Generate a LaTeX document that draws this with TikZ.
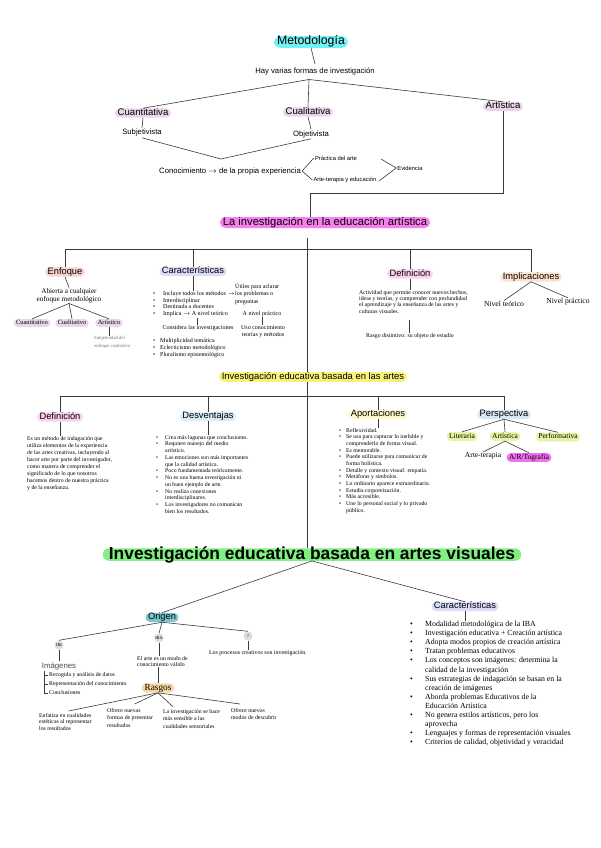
\documentclass[tikz,border=0pt]{standalone}
\usepackage{fontspec}
\setmainfont{Liberation Serif}
\setsansfont{Liberation Sans}
\usetikzlibrary{calc}
\newcommand\myfs[2]{\fontsize{#1}{#2}\selectfont}
\newcommand\myb[1][9pt]{\makebox[#1][l]{\textbullet}}
\newcommand\myc[1][9pt]{\hspace*{#1}}
\definecolor{cMeto}{HTML}{72F2F2}
\definecolor{cPurp}{HTML}{E9D6E9}
\definecolor{cInv}{HTML}{F77FF0}
\definecolor{cEnf}{HTML}{FBD3CD}
\definecolor{cCar}{HTML}{D9DDF7}
\definecolor{cDef}{HTML}{FBD1F1}
\definecolor{cImp}{HTML}{FDE1D3}
\definecolor{cYel}{HTML}{FBF27A}
\definecolor{cDes}{HTML}{D8ECFA}
\definecolor{cApo}{HTML}{FDF8CC}
\definecolor{cPer}{HTML}{D5E8F9}
\definecolor{cLit}{HTML}{E5F5A1}
\definecolor{cArt}{HTML}{F26FF0}
\definecolor{cGre}{HTML}{80F080}
\definecolor{cOri}{HTML}{7CC5D3}
\definecolor{cGry}{HTML}{DCDCDC}
\definecolor{cRas}{HTML}{FAD8A4}
\definecolor{cLine}{HTML}{3A3A3A}
\begin{document}
\begin{tikzpicture}[x=1pt,y=-1pt,
 ln/.style={draw=cLine, line width=0.6pt},
 pill/.style={fill=#1, rounded corners=4.5pt, inner xsep=2.5pt, inner ysep=0.5pt},
 hd/.style={font=\sffamily\myfs{9.3}{11}, text height=6.3pt, text depth=1.8pt},
 sf/.style={font=\sffamily\myfs{7.7}{9}, inner sep=1pt, text height=5.6pt, text depth=1.6pt},
 sfs/.style={font=\sffamily\myfs{5.8}{7}, inner sep=1pt},
 tx/.style={inner sep=0pt, align=left, font=\myfs{5.8}{6.7}},
 sp/.style={font=\myfs{6.4}{7.5}, text height=4.4pt, text depth=1.3pt, inner ysep=1.1pt, rounded corners=4pt},
 pp/.style={font=\myfs{7.5}{8.5}, text height=5.1pt, text depth=1.6pt, inner ysep=1.1pt, rounded corners=4.5pt},
 gc/.style={fill=cGry, rounded corners=4.5pt, minimum height=9pt, minimum width=9pt, inner sep=0.8pt, font=\myfs{4.3}{5}}
]
\fill[white] (0,0) rectangle (600,848);
\useasboundingbox (0,0) rectangle (600,848);

% ---------- top ----------
\node[pill=cMeto, font=\sffamily\myfs{12.3}{14}, text height=8.2pt, text depth=2.4pt, rounded corners=5.5pt, inner xsep=3pt] (meto) at (311,42) {Metodología};
\node[sf, inner ysep=4.3pt] (hay) at (315,72) {Hay varias formas de investigación};
\node[pill=cPurp, hd, font=\sffamily\myfs{9.6}{11}] (cuant) at (143,113) {Cuantitativa};
\node[pill=cPurp, hd, font=\sffamily\myfs{9.6}{11}] (cual) at (308,112) {Cualitativa};
\node[pill=cPurp, hd, font=\sffamily\myfs{9.6}{11}] (art) at (503,106.5) {Artística};
\node[sf] (subj) at (142,133) {Subjetivista};
\node[sf] (obj) at (311,134) {Objetivista};
\node[sf] (con) at (230,171) {Conocimiento $\rightarrow$ de la propia experiencia};
\node[sfs] (prac) at (336,158) {Práctica del arte};
\node[sfs] (arteter) at (345,180) {Arte-terapia y educación};
\node[sfs] (evid) at (410,168) {Evidencia};
\coordinate (hj) at (309,79.5);
\coordinate (cj) at (221,159);
\coordinate (b1) at (381,159);
\coordinate (b2) at (379,181);
\coordinate (jA) at (310,193);

% ---------- section 2 ----------
\node[pill=cInv, font=\sffamily\myfs{11.2}{13}, text height=7.4pt, text depth=2.2pt, rounded corners=5.5pt, inner ysep=0.7pt, inner xsep=3pt] (inv) at (325,222.5) {La investigación en la educación artística};
\coordinate (jB) at (307,238);
\coordinate (h2) at (0,249);
\node[pill=cEnf, hd] (enf) at (65,272) {Enfoque};
\node[pill=cCar, hd] (car) at (193,271.5) {Características};
\node[pill=cDef, hd] (def1) at (410,274) {Definición};
\node[pill=cImp, hd] (impl) at (531,277) {Implicaciones};

\node[inner sep=0.5pt, align=center, font=\myfs{7.2}{8}] (abierta) at (69,295.5) {Abierta a cualquier\\enfoque metodológico};
\node[pill=cPurp, sp] (ecuant) at (32,323) {Cuantitativo};
\node[pill=cPurp, sp] (ecual) at (72,323) {Cualitativo};
\node[pill=cPurp, sp] (eart) at (109,323) {Artístico};
\node[tx, anchor=north west, font=\myfs{4.7}{8}, text=black!55] (subjt) at (94,336) {Subjetividad del\\enfoque cualitativo};

\node[tx, anchor=north west, font=\myfs{6}{6.7}] (carlist) at (153,291) {\myb[10pt]Incluye todos los métodos $\rightarrow$\\\myb[10pt]Interdisciplinar\\\myb[10pt]Destinada a docentes\\\myb[10pt]Implica $\rightarrow$ A nivel teórico};
\node[tx, anchor=north west, font=\myfs{6}{7.5}] (utiles) at (235,283) {Útiles para aclarar\\los problemas o\\preguntas};
\node[inner sep=0.5pt, font=\myfs{6}{7}] (consid) at (198,328) {Considera las investigaciones};
\node[inner sep=0.5pt, font=\myfs{6}{7}] (prac2) at (262,314) {A nivel práctico};
\node[inner sep=0.5pt, align=center, font=\myfs{6}{6.5}] (uso) at (263,331.5) {Uso conocimiento\\teorías y métodos};
\node[tx, anchor=north west, font=\myfs{6}{7}] (carlist2) at (153,338) {\myb[7pt]Multiplicidad temática\\\myb[7pt]Eclecticismo metodológico\\\myb[7pt]Pluralismo epistemológico};
\coordinate (ct1) at (197,318);

\node[tx, anchor=north west, font=\myfs{5.8}{6.3}] (deftext) at (359,290) {Actividad que permite conocer nuevos hechos,\\ideas y teorías, y comprender con profundidad\\el aprendizaje y la enseñanza de las artes y\\culturas visuales.};
\node[inner sep=0.5pt, font=\myfs{5.8}{7}] (rasgo) at (410,336) {Rasgo distintivo: su objeto de estudio};
\coordinate (dj) at (409,320);

\node[inner sep=0.5pt, font=\myfs{7.6}{9}] (nivt) at (504,304) {Nivel teórico};
\node[inner sep=0.5pt, font=\myfs{7.6}{9}] (nivp) at (568,302) {Nivel práctico};

% ---------- section 3 ----------
\node[pill=cYel, font=\sffamily\myfs{9.4}{11}, text height=6.4pt, text depth=1.9pt, inner ysep=0.8pt, rounded corners=5pt, inner xsep=3pt] (ieba) at (313,377) {Investigación educativa basada en las artes};
\coordinate (h3) at (0,396);
\node[pill=cDef, hd] (def2) at (60,417) {Definición};
\node[pill=cDes, hd] (desv) at (208,416.5) {Desventajas};
\node[pill=cApo, hd] (aport) at (378,414.5) {Aportaciones};
\node[pill=cPer, hd] (persp) at (504,414.5) {Perspectiva};

\node[tx, anchor=north west, font=\myfs{5.8}{7}] (def2text) at (27,436) {Es un método de indagación que\\utiliza elementos de la experiencia\\de las artes creativas, incluyendo al\\hacer arte por parte del investigador,\\como manera de comprender el\\significado de lo que nosotros\\hacemos dentro de nuestra práctica\\y de la enseñanza.};

\node[tx, anchor=north west, font=\myfs{5.75}{6.73}] (desvlist) at (156,435) {\myb Crea más lagunas que conclusiones.\\\myb Requiere manejo del medio\\\myc artístico.\\\myb Las emociones son más importantes\\\myc que la calidad artística.\\\myb Poco fundamentada teóricamente.\\\myb No es una buena investigación ni\\\myc un buen ejemplo de arte.\\\myb No realiza conexiones\\\myc interdisciplinares.\\\myb Los investigadores no comunican\\\myc bien los resultados.};

\node[tx, anchor=north west, font=\myfs{5.8}{6.67}] (aportlist) at (339,428) {\myb[7pt]Reflexividad.\\\myb[7pt]Se usa para capturar lo inefable y\\\myc[7pt]comprenderlo de forma visual.\\\myb[7pt]Es memorable.\\\myb[7pt]Puede utilizarse para comunicar de\\\myc[7pt]forma holística.\\\myb[7pt]Detalle y contexto visual: empatía.\\\myb[7pt]Metáforas y símbolos.\\\myb[7pt]Lo ordinario aparece extraordinario.\\\myb[7pt]Estudia corporeización.\\\myb[7pt]Más accesible.\\\myb[7pt]Une lo personal social y lo privado\\\myc[7pt]público.};

\node[pill=cLit, pp] (lit) at (462,436.5) {Literaria};
\node[pill=cLit, pp] (parte) at (505,436.5) {Artística};
\node[pill=cLit, pp] (perf) at (558,437) {Performativa};
\node[inner sep=0.5pt, font=\myfs{7.5}{8.5}] (arteter2) at (483,456) {Arte-terapia};
\node[pill=cArt, pp] (artog) at (529,457.5) {A/R/Tografía};

% ---------- section 4 ----------
\node[pill=cGre, font=\sffamily\bfseries\myfs{17.4}{20}, text height=11.5pt, text depth=1pt, inner ysep=0pt, rounded corners=6pt, inner xsep=6pt] (big) at (312,554.5) {Investigación educativa basada en artes visuales};

\node[pill=cOri, hd] (orig) at (162,617.5) {Origen};
\node[pill=cCar, hd] (car2) at (465,606.5) {Características};

\node[tx, anchor=north west, font=\myfs{7.8}{9.08}] (car2list) at (410,621) {\myb[15pt]Modalidad metodológica de la IBA\\\myb[15pt]Investigación educativa + Creación artística\\\myb[15pt]Adopta modos propios de creación artística\\\myb[15pt]Tratan problemas educativos\\\myb[15pt]Los conceptos son imágenes: determina la\\\myc[15pt]calidad de la investigación\\\myb[15pt]Sus estrategias de indagación se basan en la\\\myc[15pt]creación de imágenes\\\myb[15pt]Aborda problemas Educativos de la\\\myc[15pt]Educación Artística\\\myb[15pt]No genera estilos artísticos, pero los\\\myc[15pt]aprovecha\\\myb[15pt]Lenguajes y formas de representación visuales\\\myb[15pt]Criterios de calidad, objetividad y veracidad};

\node[gc] (ibi) at (59,645) {IBI};
\node[gc] (iba) at (159,638) {IBA};
\node[gc] (qq) at (248,636) {?};
\node[inner sep=0.8pt, font=\sffamily\myfs{7.8}{9}, text=black!70] (imag) at (59,666) {Imágenes};
\node[inner sep=1pt, anchor=west, font=\myfs{5.8}{7}] (ri1) at (48,675) {Recogida y análisis de datos};
\node[inner sep=1pt, anchor=west, font=\myfs{5.8}{7}] (ri2) at (48,684) {Representación del conocimiento};
\node[inner sep=1pt, anchor=west, font=\myfs{5.8}{7}] (ri3) at (48,693) {Conclusiones};
\coordinate (brT) at (44,670.5);

\node[tx, anchor=north west, font=\myfs{5.8}{6.5}] (elarte) at (137,656) {El arte es un modo de\\conocimiento válido};
\node[pill=cRas, font=\myfs{9.3}{11}, text height=6.3pt, text depth=1.9pt, rounded corners=4.5pt, inner xsep=3pt] (rasgos) at (158,688) {Rasgos};
\node[tx, anchor=north west, font=\myfs{5.8}{6.6}] (r1) at (39,713) {Enfatiza en cualidades\\estéticas al representar\\los resultados};
\node[tx, anchor=north west, font=\myfs{5.8}{7.4}] (r2) at (107,708) {Ofrece nuevas\\formas de presentar\\resultados};
\node[tx, anchor=north west, font=\myfs{5.8}{7.4}] (r3) at (163,709) {La investigación se hace\\más sensible a las\\cualidades sensoriales};
\node[tx, anchor=north west, font=\myfs{5.8}{7.4}] (r4) at (231,708) {Ofrece nuevos\\modos de descubrir};
\node[inner sep=0.5pt, font=\myfs{5.9}{7}] (procesos) at (258,653) {Los procesos creativos son investigación.};

% ---------- connectors ----------
\draw[ln] (meto.south) -- (hay.north);
\draw[ln] (cuant.north) -- (hj) -- (art.north);
\draw[ln] (hj) -- (cual.north);
\draw[ln] (cuant.south) -- (subj.north);
\draw[ln] (cual.south) -- (obj.north);
\draw[ln] (subj.south) -- (cj) -- (obj.south);
\draw[ln] (con.east) -- (prac.west);
\draw[ln] (con.east) -- (arteter.west);
\draw[ln] (b1) -- (evid.west) -- (b2);
\draw[ln] (art.south) |- (jA) -- (jA |- inv.north);

\draw[ln] (jB) -- (jB |- ieba.north);
\draw[ln] (enf.north) |- (impl.north |- h2) -- (impl.north);
\draw[ln] (car.north) -- (car.north |- h2);
\draw[ln] (def1.north) -- (def1.north |- h2);
\draw[ln] (enf.south) -- (abierta.north);
\draw[ln] (abierta.south) -- (ecuant.north);
\draw[ln] (abierta.south) -- (ecual.north);
\draw[ln] (abierta.south) -- (eart.north);
\draw[ln] (eart.south) -- (eart.south |- subjt.north);
\draw[ln] (car.south) -- (car.south |- carlist.north);
\draw[ln] (ct1) -- (ct1 |- consid.north);
\draw[ln] (prac2.south) -- (prac2.south |- uso.north);
\draw[ln] (def1.south) -- (def1.south |- deftext.north);
\draw[ln] (dj) -- (dj |- rasgo.north);
\draw[ln] (impl.south) -- (nivt.north);
\draw[ln] (impl.south) -- (nivp.north);

\draw[ln] (ieba.south -| jB) -- (jB |- big.north);
\draw[ln] (def2.north) |- (persp.north |- h3) -- (persp.north);
\draw[ln] (desv.north) -- (desv.north |- h3);
\draw[ln] (aport.north) -- (aport.north |- h3);
\draw[ln] (def2.south) -- (def2.south |- def2text.north);
\draw[ln] (desv.south) -- (desv.south |- desvlist.north);
\draw[ln] (aport.south) -- (aport.south |- aportlist.north);
\draw[ln] (persp.south) -- (lit.north);
\draw[ln] (persp.south) -- (parte.north);
\draw[ln] (persp.south) -- (perf.north);
\draw[ln] (parte.south) -- (arteter2.north);
\draw[ln] (parte.south) -- (artog.north);

\draw[ln] (big.south) -- (orig.north);
\draw[ln] (big.south) -- (car2.north);
\draw[ln] (car2.south) -- (car2.south |- car2list.north);
\draw[ln] (orig.south) -- (ibi.north);
\draw[ln] (orig.south) -- (iba.north);
\draw[ln] (orig.south) -- (qq.north);
\draw[ln] (ibi.south) -- (ibi.south |- imag.north);
\draw[ln] (brT) |- (ri3.west);
\draw[ln] (brT |- ri1.west) -- (ri1.west);
\draw[ln] (brT |- ri2.west) -- (ri2.west);
\draw[ln] (iba.south) -- (iba.south |- elarte.north);
\draw[ln] (rasgos.north |- elarte.south) -- (rasgos.north);
\draw[ln] (rasgos.south) -- ($(r1.north west)!0.56!(r1.north east)+(0,-2)$);
\draw[ln] (rasgos.south) -- ($(r2.north west)!0.6!(r2.north east)+(0,-4)$);
\draw[ln] (rasgos.south) -- ($(r3.north west)!0.18!(r3.north east)+(0,-2)$);
\draw[ln] (rasgos.south) -- ($(r4.north west)!0.2!(r4.north east)+(0,-4)$);
\draw[ln] (qq.south) -- (qq.south |- procesos.north);
\end{tikzpicture}
\end{document}
